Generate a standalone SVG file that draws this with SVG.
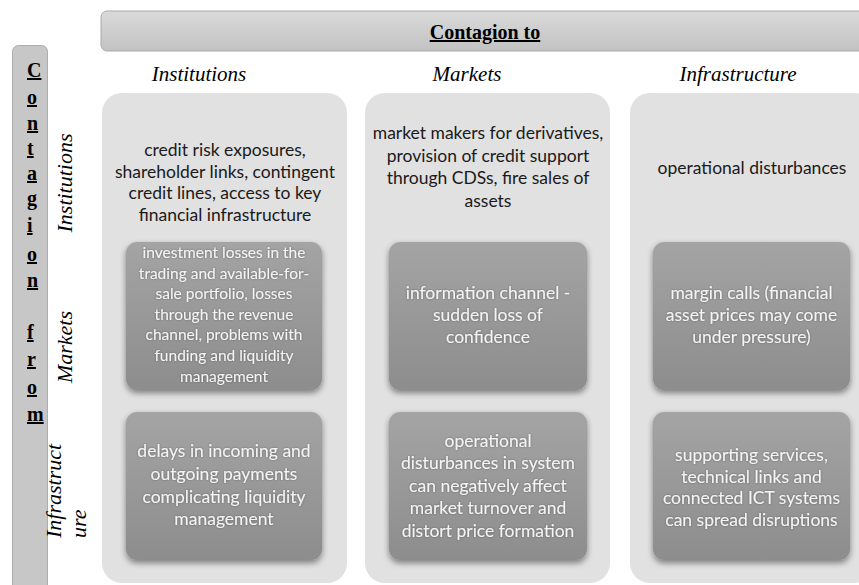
<svg xmlns="http://www.w3.org/2000/svg" width="859" height="585" viewBox="0 0 859 585">
  <defs>
    <linearGradient id="barGrad" x1="0" y1="0" x2="0" y2="1">
      <stop offset="0" stop-color="#dadada"/>
      <stop offset="1" stop-color="#c2c2c2"/>
    </linearGradient>
    <linearGradient id="boxGrad" x1="0" y1="0" x2="0" y2="1">
      <stop offset="0" stop-color="#a4a4a4"/>
      <stop offset="1" stop-color="#8d8d8d"/>
    </linearGradient>
    <filter id="boxShadow" x="-10%" y="-10%" width="120%" height="125%">
      <feGaussianBlur in="SourceAlpha" stdDeviation="3"/>
      <feOffset dy="3" result="blur"/>
      <feComponentTransfer><feFuncA type="linear" slope="0.45"/></feComponentTransfer>
      <feMerge>
        <feMergeNode/>
        <feMergeNode in="SourceGraphic"/>
      </feMerge>
    </filter>
    <filter id="textGlow" x="-5%" y="-20%" width="110%" height="140%">
      <feGaussianBlur in="SourceAlpha" stdDeviation="1.2"/>
      <feComponentTransfer><feFuncA type="linear" slope="0.35"/></feComponentTransfer>
      <feMerge>
        <feMergeNode/>
        <feMergeNode in="SourceGraphic"/>
      </feMerge>
    </filter>
  </defs>
  <style>
    .bar { fill: url(#barGrad); stroke: #a9a9a9; stroke-width: 1; }
    .side { fill: #c7c7c7; stroke: #adadad; stroke-width: 1; }
    .title { font-family: "Liberation Serif", serif; font-weight: bold; font-size: 20px; text-decoration: underline; fill: #000; }
    .letter { font-family: "Liberation Serif", serif; font-weight: bold; font-size: 20px; text-decoration: underline; fill: #000; }
    .head { font-family: "Liberation Serif", serif; font-style: italic; font-size: 21px; fill: #000; text-anchor: middle; }
    .rowlab { font-family: "Liberation Serif", serif; font-style: italic; font-size: 22px; fill: #000; }
    .panel { fill: #e1e1e1; }
    .box { fill: url(#boxGrad); filter: url(#boxShadow); }
    .top { font-family: Lato, "Open Sans", sans-serif; font-size: 17.5px; fill: #1a1a1a; text-anchor: middle; }
    .in { font-family: Lato, "Open Sans", sans-serif; font-size: 17.5px; fill: #f4f4f4; text-anchor: middle; filter: url(#textGlow); }
    .in.small { font-size: 15.5px; }
  </style>

  <!-- column header bar -->
  <g id="header-bar">
    <rect class="bar" x="101" y="11" width="790" height="40" rx="6"/>
    <text class="title" x="485" y="39" text-anchor="middle">Contagion to</text>
  </g>

  <!-- row header bar with stacked letters -->
  <g id="side-bar">
    <rect class="side" x="12.5" y="45.5" width="35" height="560" rx="6"/>
    <text class="letter" x="27" y="77">C</text>
    <text class="letter" x="27" y="104">o</text>
    <text class="letter" x="27" y="130">n</text>
    <text class="letter" x="27" y="155">t</text>
    <text class="letter" x="27" y="180">a</text>
    <text class="letter" x="27" y="205">g</text>
    <text class="letter" x="27" y="232">i</text>
    <text class="letter" x="27" y="261">o</text>
    <text class="letter" x="27" y="287">n</text>
    <text class="letter" x="27" y="339">f</text>
    <text class="letter" x="27" y="366">r</text>
    <text class="letter" x="27" y="394">o</text>
    <text class="letter" x="27" y="421">m</text>
  </g>

  <!-- column headings -->
  <g id="col-heads">
    <text class="head" x="199" y="81">Institutions</text>
    <text class="head" x="467" y="81">Markets</text>
    <text class="head" x="738" y="81">Infrastructure</text>
  </g>

  <!-- row headings -->
  <g id="row-heads">
    <text class="rowlab" transform="translate(72,183) rotate(-90)" text-anchor="middle">Institutions</text>
    <text class="rowlab" transform="translate(72,347) rotate(-90)" text-anchor="middle">Markets</text>
    <text class="rowlab" transform="translate(61,538) rotate(-90)">Infrastruct</text>
    <text class="rowlab" transform="translate(86,538) rotate(-90)">ure</text>
  </g>

  <!-- column: institutions -->
  <g id="col-institutions">
    <rect class="panel" x="102" y="93" width="245" height="490" rx="20"/>
    <text class="top" x="225" y="156">credit risk exposures,</text>
    <text class="top" x="225" y="178">shareholder links, contingent</text>
    <text class="top" x="225" y="199">credit lines, access to key</text>
    <text class="top" x="225" y="221">financial infrastructure</text>
  </g>
  <g id="inst-from-markets">
    <rect class="box" x="126" y="242" width="196" height="148" rx="11"/>
    <text class="in small" x="224" y="258">investment losses in the</text>
    <text class="in small" x="224" y="278.6">trading and available-for-</text>
    <text class="in small" x="224" y="299.2">sale portfolio, losses</text>
    <text class="in small" x="224" y="319.8">through the revenue</text>
    <text class="in small" x="224" y="340.4">channel, problems with</text>
    <text class="in small" x="224" y="361">funding and liquidity</text>
    <text class="in small" x="224" y="381.6">management</text>
  </g>
  <g id="inst-from-infra">
    <rect class="box" x="126" y="412" width="196" height="148" rx="11"/>
    <text class="in" x="224" y="457">delays in incoming and</text>
    <text class="in" x="224" y="480">outgoing payments</text>
    <text class="in" x="224" y="503">complicating liquidity</text>
    <text class="in" x="224" y="525">management</text>
  </g>

  <!-- column: markets -->
  <g id="col-markets">
    <rect class="panel" x="365" y="93" width="245" height="490" rx="20"/>
    <text class="top" x="488" y="139">market makers for derivatives,</text>
    <text class="top" x="488" y="162">provision of credit support</text>
    <text class="top" x="488" y="184">through CDSs, fire sales of</text>
    <text class="top" x="488" y="207">assets</text>
  </g>
  <g id="mkt-from-markets">
    <rect class="box" x="389" y="242" width="198" height="148" rx="11"/>
    <text class="in" x="488" y="299">information channel -</text>
    <text class="in" x="488" y="321">sudden loss of</text>
    <text class="in" x="488" y="343">confidence</text>
  </g>
  <g id="mkt-from-infra">
    <rect class="box" x="389" y="412" width="198" height="148" rx="11"/>
    <text class="in" x="488" y="447">operational</text>
    <text class="in" x="488" y="469">disturbances in system</text>
    <text class="in" x="488" y="492">can negatively affect</text>
    <text class="in" x="488" y="514">market turnover and</text>
    <text class="in" x="488" y="537">distort price formation</text>
  </g>

  <!-- column: infrastructure -->
  <g id="col-infrastructure">
    <rect class="panel" x="630" y="93" width="245" height="490" rx="20"/>
    <text class="top" x="752" y="174">operational disturbances</text>
  </g>
  <g id="infra-from-markets">
    <rect class="box" x="653" y="242" width="197" height="148" rx="11"/>
    <text class="in" x="751.5" y="299">margin calls (financial</text>
    <text class="in" x="751.5" y="321">asset prices may come</text>
    <text class="in" x="751.5" y="343">under pressure)</text>
  </g>
  <g id="infra-from-infra">
    <rect class="box" x="653" y="412" width="197" height="148" rx="11"/>
    <text class="in" x="751.5" y="461">supporting services,</text>
    <text class="in" x="751.5" y="483">technical links and</text>
    <text class="in" x="751.5" y="504">connected ICT systems</text>
    <text class="in" x="751.5" y="526">can spread disruptions</text>
  </g>

  <!-- connectors: none in this layout -->
  <g id="connectors"/>
</svg>
